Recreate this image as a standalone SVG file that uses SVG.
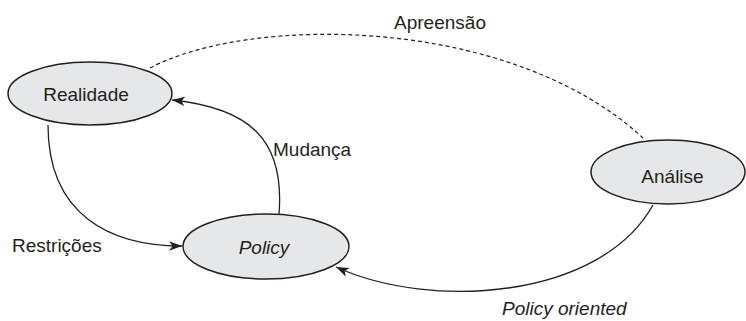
<svg xmlns="http://www.w3.org/2000/svg" width="746" height="321" viewBox="0 0 746 321">
  <style>
    .node ellipse { fill: #e6e7e8; stroke: #231f20; stroke-width: 1.5; }
    .label { font-family: "Liberation Sans", Arial, sans-serif; font-size: 19px; fill: #231f20; }
    .it { font-style: italic; }
    .edge { fill: none; stroke: #231f20; stroke-width: 1.3; }
    .dashed { stroke-dasharray: 4 3; stroke-width: 1.2; }
  </style>
  <defs>
    <marker id="arrow" markerUnits="userSpaceOnUse" markerWidth="14" markerHeight="10" viewBox="-13 -5 14 10" refX="0" refY="0" orient="auto">
      <path d="M0,0 L-13,-4.8 L-9.5,0 L-13,4.8 Z" fill="#231f20"/>
    </marker>
  </defs>

  <rect width="746" height="321" fill="#ffffff"/>

  <!-- connectors -->
  <g id="connectors">
    <path id="apreensao" class="edge dashed" d="M150,68 C250,15 510,15 643,138"/>
    <path id="restricoes" class="edge" d="M48,125 C48,215 110,246 182,246" marker-end="url(#arrow)"/>
    <path id="mudanca" class="edge" d="M279,214 C285,140 250,108 172,100" marker-end="url(#arrow)"/>
    <path id="policy-oriented" class="edge" d="M653,205 C600,300 430,310 336,267" marker-end="url(#arrow)"/>
  </g>

  <!-- nodes -->
  <g id="realidade" class="node">
    <ellipse cx="90" cy="93.5" rx="82" ry="31.5"/>
    <text class="label" x="86" y="101" text-anchor="middle">Realidade</text>
  </g>
  <g id="policy" class="node">
    <ellipse cx="266" cy="246.5" rx="83" ry="32.5"/>
    <text class="label it" x="264" y="254" text-anchor="middle">Policy</text>
  </g>
  <g id="analise" class="node">
    <ellipse cx="668" cy="172" rx="77" ry="32"/>
    <text class="label" x="672.5" y="183" text-anchor="middle">Análise</text>
  </g>

  <!-- edge labels -->
  <g id="edge-labels">
    <text class="label" x="440" y="29" text-anchor="middle">Apreensão</text>
    <text class="label" x="273" y="156">Mudança</text>
    <text class="label" x="12" y="252">Restrições</text>
    <text class="label it" x="502" y="315">Policy oriented</text>
  </g>
</svg>
